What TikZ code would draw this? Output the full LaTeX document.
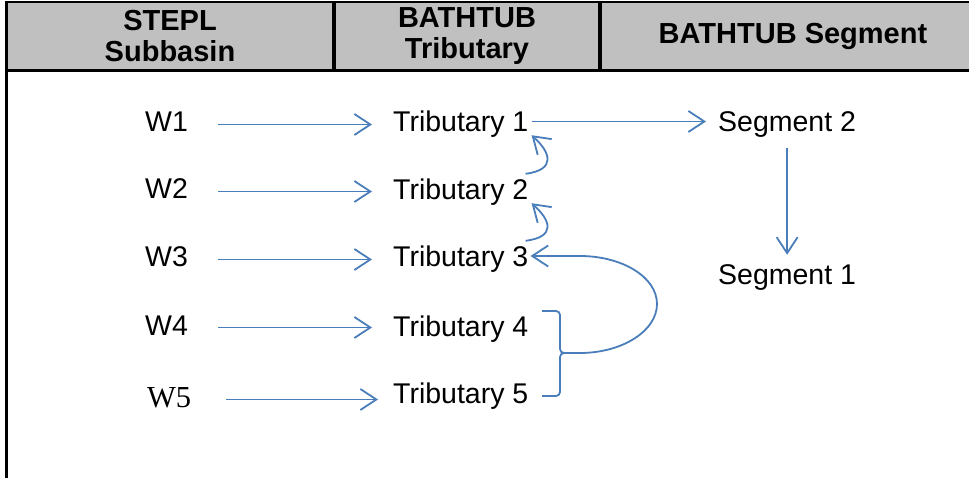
\documentclass[tikz,border=0pt]{standalone}
\usepackage{fontspec}
\setmainfont{Liberation Sans}
\newfontfamily\serifW{Liberation Serif}
\usepackage{tikz}
\usetikzlibrary{arrows.meta,calc,positioning}
\definecolor{linkblue}{HTML}{4A7EBB}
\definecolor{headgray}{HTML}{C0C0C0}

\begin{document}
\begin{tikzpicture}[
    x=1pt, y=-1pt,
    hcell/.style={rectangle, fill=headgray, draw=black, line width=2pt, anchor=north west,
        minimum height=68pt, inner sep=0, align=center,
        font=\fontsize{29}{31}\bfseries\selectfont},
    lbl/.style={anchor=base west, inner sep=2pt, text height=21pt, text depth=6pt,
        font=\fontsize{28.5}{34}\selectfont},
    link/.style={draw=linkblue, line width=1.8pt},
    flow/.style={link, -{Straight Barb[length=16pt, width=21pt, line width=1.8pt]}}]
\useasboundingbox (0,0) rectangle (969,478);
\coordinate (bot) at (0,478);

% header row
\node[hcell, minimum width=326pt] (hsub) at (6,1) {STEPL\\Subbasin};
\node[hcell, minimum width=264pt] (htrib) at (hsub.north east) {BATHTUB\\Tributary};
\node[hcell, minimum width=384pt] (hseg) at (htrib.north east) {BATHTUB Segment};
\path[draw, line width=3pt] (hsub.south west) -- (hseg.south east);
\path[draw, line width=3pt] (hsub.north west) -- (hsub.north west |- bot);

% subbasins
\node[lbl] (w1) at (143,132) {W1};
\node[lbl] (w2) at (143,199) {W2};
\node[lbl] (w3) at (143,267) {W3};
\node[lbl] (w4) at (143,335) {W4};
\node[lbl, font=\fontsize{30.5}{34}\serifW] (w5) at (145,407) {W5};

% tributaries
\node[lbl] (t1) at (391,132) {Tributary 1};
\node[lbl] (t2) at (391,200) {Tributary 2};
\node[lbl] (t3) at (391,267) {Tributary 3};
\node[lbl] (t4) at (391,336) {Tributary 4};
\node[lbl] (t5) at (391,403) {Tributary 5};

% segments
\node[lbl] (s2) at (716,132) {Segment 2};
\node[lbl] (s1) at (716,285) {Segment 1};

% subbasin to tributary
\foreach \i in {1,...,4}
    \draw[flow, shorten <=28pt, shorten >=19pt] (w\i.east) -- (w\i.east -| t\i.west);
\draw[flow, shorten <=33pt, shorten >=13pt] (w5.east) -- (w5.east -| t5.west);

% tributary chain
\coordinate (c2a) at ($(t2.north east)+(-5,-3)$);
\coordinate (c2b) at ($(t1.south east)+(1,-5)$);
\coordinate (c3a) at ($(t3.north east)+(-5,-3)$);
\coordinate (c3b) at ($(t2.south east)+(1,-5)$);
\draw[flow] (c2a) .. controls ($(c2a)+(31,-4)$) and ($(c2b)+(19,17)$) .. (c2b);
\draw[flow] (c3a) .. controls ($(c3a)+(31,-4)$) and ($(c3b)+(19,17)$) .. (c3b);

% tributaries 4 and 5 join tributary 3
\coordinate (br4) at (542,311);
\coordinate (br5) at (542,396);
\coordinate (brtip) at (565,353);
\coordinate (loopbot) at (580,353);
\coordinate (looptop) at (580,256);
\draw[link, rounded corners=4pt] (br4) -- ++(18,0) |- (brtip);
\draw[link, rounded corners=4pt] (br5) -- ++(18,0) |- (brtip);
\draw[flow] (brtip) -- (loopbot) .. controls (622,353) and (657,331) .. (657,304)
    .. controls (657,277) and (622,256) .. (looptop) -- (looptop -| t3.east);

% tributary 1 to segments
\draw[flow, shorten <=1pt, shorten >=10pt] ([yshift=3pt]t1.east) -- ([yshift=3pt]s2.west);
\draw[flow, shorten <=8pt, shorten >=7pt] (s2.south) -- (s1.north);

\end{tikzpicture}
\end{document}
